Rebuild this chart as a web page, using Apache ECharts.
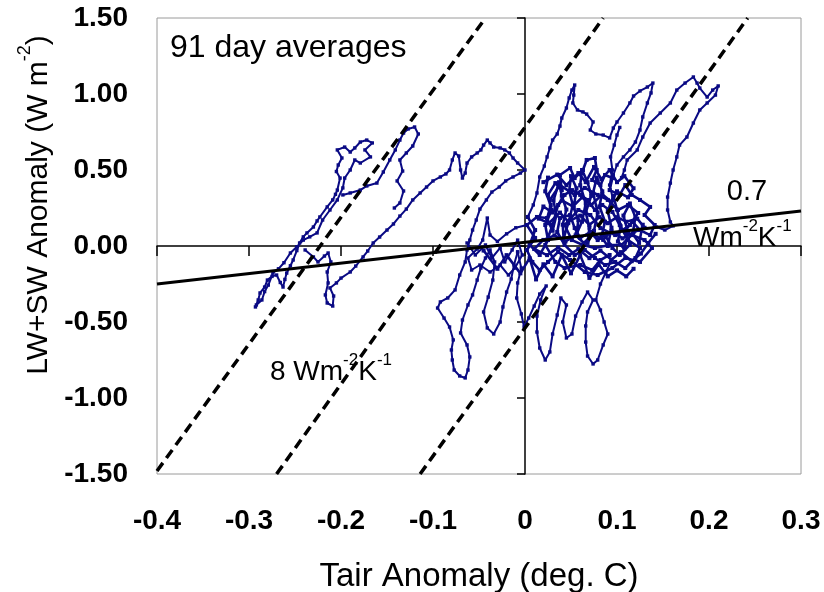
<!DOCTYPE html>
<html><head><meta charset="utf-8">
<script src="https://cdn.jsdelivr.net/npm/echarts@6/dist/echarts.min.js"></script>
<style>html,body{margin:0;padding:0;background:#fff}#c{width:824px;height:592px}</style>
</head><body><div id="c"></div>
<script>
const FONT = "'Liberation Sans', Arial, sans-serif";
const xMin = -0.4, xMax = 0.3, xStep = 0.1;
const yMin = -1.5, yMax = 1.5, yStep = 0.5;
const xTickLabels = ['-0.4','-0.3','-0.2','-0.1','0','0.1','0.2','0.3'];
const yTickLabels = ['-1.50','-1.00','-0.50','0.00','0.50','1.00','1.50'];

// reference lines (slope ~8 W m-2 K-1 dashed, 0.7 W m-2 K-1 solid)
const slopeLine1 = [[-0.4,-1.48],[-0.043,1.5]];
const slopeLine2 = [[-0.27,-1.5],[0.085,1.5]];
const slopeLine3 = [[-0.114,-1.5],[0.242,1.5]];
const fitLine = [[-0.4,-0.25],[0.3,0.23]];

// 91-day average trajectory
const trajLeft = [[-0.293,-0.401],[-0.290,-0.355],[-0.288,-0.309],[-0.283,-0.270],[-0.280,-0.224],[-0.275,-0.200],[-0.270,-0.191],[-0.266,-0.240],[-0.263,-0.270],[-0.261,-0.220],[-0.259,-0.178],[-0.255,-0.130],[-0.252,-0.092],[-0.248,-0.030],[-0.245,0.020],[-0.241,0.060],[-0.237,0.086],[-0.230,0.125],[-0.226,0.165],[-0.223,0.191],[-0.215,0.257],[-0.209,0.303],[-0.206,0.340],[-0.204,0.368],[-0.201,0.447],[-0.205,0.490],[-0.203,0.533],[-0.199,0.579],[-0.204,0.632],[-0.196,0.651],[-0.190,0.618],[-0.185,0.645],[-0.179,0.684],[-0.172,0.697],[-0.166,0.678],[-0.174,0.632],[-0.168,0.586],[-0.179,0.546],[-0.185,0.566],[-0.190,0.500],[-0.196,0.447],[-0.198,0.382],[-0.204,0.303],[-0.212,0.237],[-0.220,0.171],[-0.226,0.086],[-0.234,0.060],[-0.241,0.039],[-0.248,-0.005],[-0.255,-0.046],[-0.262,-0.110],[-0.268,-0.150],[-0.274,-0.178],[-0.279,-0.257],[-0.283,-0.300],[-0.286,-0.355],[-0.292,-0.388]];
const trajUpperLeft = [[-0.198,0.336],[-0.190,0.349],[-0.179,0.368],[-0.172,0.395],[-0.161,0.414],[-0.154,0.487],[-0.147,0.566],[-0.141,0.632],[-0.136,0.697],[-0.132,0.743],[-0.127,0.770],[-0.120,0.783],[-0.116,0.737],[-0.122,0.658],[-0.129,0.612],[-0.136,0.566],[-0.133,0.493],[-0.139,0.428],[-0.132,0.362],[-0.136,0.283],[-0.142,0.250]];
const trajBridge = [[-0.239,-0.026],[-0.230,-0.072],[-0.225,-0.105],[-0.218,-0.066],[-0.214,-0.046],[-0.211,-0.105],[-0.215,-0.171],[-0.214,-0.243],[-0.217,-0.322],[-0.215,-0.375],[-0.209,-0.395],[-0.208,-0.329],[-0.212,-0.276],[-0.205,-0.243],[-0.200,-0.211],[-0.190,-0.171],[-0.184,-0.132],[-0.176,-0.072],[-0.171,-0.033],[-0.165,0.020],[-0.158,0.059],[-0.150,0.105],[-0.143,0.145],[-0.136,0.197],[-0.129,0.243],[-0.122,0.303],[-0.114,0.349],[-0.107,0.388],[-0.100,0.428],[-0.092,0.454],[-0.086,0.474],[-0.082,0.500],[-0.079,0.566],[-0.076,0.612],[-0.072,0.592],[-0.070,0.500],[-0.068,0.447],[-0.065,0.480],[-0.063,0.546],[-0.058,0.586],[-0.052,0.612],[-0.048,0.632],[-0.045,0.664],[-0.041,0.697],[-0.038,0.678],[-0.034,0.651],[-0.027,0.645],[-0.022,0.632],[-0.017,0.612],[-0.013,0.579],[-0.008,0.546],[0.000,0.500],[-0.005,0.480],[-0.013,0.454],[-0.021,0.428],[-0.028,0.388],[-0.036,0.355],[-0.042,0.303],[-0.049,0.243],[-0.053,0.171],[-0.057,0.105],[-0.060,0.039],[-0.063,-0.026],[-0.065,-0.105],[-0.071,-0.191],[-0.076,-0.289],[-0.084,-0.342],[-0.092,-0.368],[-0.095,-0.408],[-0.088,-0.474],[-0.082,-0.533],[-0.078,-0.618],[-0.080,-0.684],[-0.079,-0.750],[-0.077,-0.816],[-0.071,-0.855],[-0.065,-0.868],[-0.062,-0.816],[-0.060,-0.730],[-0.063,-0.651],[-0.070,-0.572],[-0.068,-0.487],[-0.062,-0.388],[-0.057,-0.322],[-0.052,-0.224],[-0.048,-0.145],[-0.043,-0.079],[-0.038,-0.026],[-0.033,-0.105],[-0.035,-0.224],[-0.040,-0.336],[-0.045,-0.434],[-0.041,-0.539],[-0.034,-0.579],[-0.027,-0.500],[-0.024,-0.401],[-0.020,-0.303],[-0.015,-0.217],[-0.012,-0.125],[-0.008,-0.039]];
const trajCentral = [[-0.008,-0.039],[-0.004,-0.145],[-0.008,-0.243],[-0.009,-0.342],[-0.004,-0.447],[-0.001,-0.533],[0.004,-0.474],[0.010,-0.395],[0.016,-0.316],[0.023,-0.263],[0.017,-0.355],[0.013,-0.461],[0.013,-0.566],[0.016,-0.671],[0.022,-0.750],[0.027,-0.697],[0.030,-0.579],[0.035,-0.454],[0.039,-0.342],[0.045,-0.388],[0.041,-0.500],[0.045,-0.605],[0.051,-0.579],[0.055,-0.461],[0.062,-0.368],[0.068,-0.303],[0.074,-0.355],[0.068,-0.434],[0.066,-0.526],[0.066,-0.632],[0.068,-0.724],[0.074,-0.776],[0.079,-0.750],[0.085,-0.651],[0.090,-0.579],[0.086,-0.500],[0.082,-0.421],[0.077,-0.355],[0.082,-0.250],[0.088,-0.171],[0.093,-0.105]];
const trajBlobA = [[0.003,0.191],[0.011,0.105],[0.005,0.007],[0.016,-0.059],[0.025,0.039],[0.022,0.138],[0.029,0.237],[0.025,0.336],[0.033,0.414],[0.040,0.368],[0.038,0.467],[0.049,0.513],[0.054,0.447],[0.063,0.500],[0.067,0.566],[0.076,0.579],[0.078,0.500],[0.073,0.434],[0.082,0.401],[0.087,0.467],[0.095,0.447],[0.092,0.368],[0.103,0.336],[0.109,0.401],[0.116,0.336],[0.125,0.303],[0.136,0.257],[0.130,0.204],[0.141,0.138],[0.136,0.072],[0.125,0.105],[0.117,0.158],[0.109,0.105],[0.114,0.007],[0.103,-0.059],[0.095,-0.013],[0.087,0.072],[0.079,0.039],[0.071,0.092],[0.060,0.053],[0.054,0.118],[0.049,0.204],[0.038,0.184],[0.035,0.092],[0.043,0.007],[0.054,-0.059],[0.065,-0.026],[0.076,-0.079],[0.087,-0.125],[0.098,-0.105],[0.109,-0.145],[0.120,-0.079],[0.125,-0.013],[0.112,0.039],[0.103,0.138],[0.095,0.224],[0.084,0.270],[0.076,0.237],[0.068,0.303],[0.060,0.336],[0.051,0.368],[0.043,0.336],[0.036,0.270],[0.030,0.138],[0.022,0.007],[0.033,-0.105],[0.043,-0.145],[0.060,-0.125],[0.073,-0.158],[0.082,-0.092],[0.092,-0.059]];
const trajBlobB = [[0.027,0.303],[0.038,0.401],[0.054,0.336],[0.065,0.382],[0.079,0.336],[0.090,0.303],[0.101,0.237],[0.112,0.270],[0.123,0.217],[0.114,0.138],[0.098,0.072],[0.082,0.118],[0.071,0.204],[0.058,0.237],[0.043,0.138],[0.051,0.039],[0.063,0.007],[0.076,-0.013],[0.092,0.007],[0.105,0.007],[0.116,0.072],[0.130,0.039],[0.138,-0.013],[0.125,-0.105],[0.109,-0.079],[0.095,-0.145],[0.079,-0.191],[0.065,-0.171],[0.049,-0.092],[0.036,-0.039],[0.025,-0.105],[0.016,-0.158],[0.008,-0.105],[0.002,-0.026],[0.011,0.053],[0.002,0.138],[0.013,0.191],[0.024,0.184]];
const trajBlobC = [[0.020,0.420],[0.035,0.470],[0.045,0.400],[0.058,0.480],[0.066,0.420],[0.075,0.520],[0.083,0.440],[0.092,0.500],[0.100,0.420],[0.108,0.460],[0.118,0.380],[0.112,0.320],[0.100,0.360],[0.094,0.290],[0.084,0.340],[0.072,0.270],[0.062,0.320],[0.052,0.260],[0.040,0.300],[0.030,0.220],[0.020,0.260],[0.015,0.180],[0.026,0.150],[0.038,0.220],[0.047,0.160],[0.060,0.200],[0.070,0.140],[0.081,0.190],[0.090,0.150],[0.100,0.190],[0.110,0.160],[0.122,0.180],[0.130,0.120],[0.118,0.090],[0.106,0.050],[0.094,0.100],[0.085,0.040],[0.074,0.080],[0.064,0.020],[0.055,0.070],[0.044,0.030],[0.032,0.070],[0.020,0.040],[0.010,-0.020],[0.024,-0.060],[0.036,-0.010],[0.048,-0.060],[0.058,-0.020],[0.070,-0.080],[0.082,-0.030],[0.094,-0.090],[0.104,-0.040],[0.116,-0.100],[0.126,-0.050],[0.134,0.020],[0.142,0.080]];
const trajBlobD = [[-0.045,-0.030],[-0.030,-0.150],[-0.020,-0.060],[-0.005,-0.180],[0.005,-0.080],[0.012,-0.220],[0.020,-0.120],[0.030,-0.200],[0.040,-0.060],[0.050,-0.180],[0.060,-0.060],[0.070,-0.210],[0.080,-0.120],[0.090,-0.200],[0.100,-0.160],[0.110,-0.200],[0.118,-0.150]];
const trajBlobE = [[0.025,0.45],[0.022,0.36],[0.028,0.27],[0.024,0.18],[0.030,0.10],[0.034,0.20],[0.031,0.30],[0.037,0.42],[0.040,0.33],[0.045,0.24],[0.041,0.14],[0.042,0.05],[0.047,0.15],[0.052,0.27],[0.048,0.36],[0.050,0.46],[0.056,0.38],[0.053,0.25],[0.058,0.17],[0.056,0.08],[0.062,0.16],[0.066,0.28],[0.060,0.40],[0.062,0.50],[0.068,0.42],[0.072,0.33],[0.066,0.22],[0.070,0.12],[0.068,0.02],[0.075,0.10],[0.079,0.22],[0.074,0.35],[0.078,0.45],[0.084,0.36],[0.081,0.26],[0.087,0.16],[0.083,0.06],[0.090,0.00],[0.094,0.12],[0.090,0.23],[0.096,0.33],[0.100,0.24],[0.104,0.13],[0.101,0.03],[0.108,-0.02],[0.112,0.09],[0.107,0.20],[0.114,0.28],[0.120,0.19],[0.117,0.08],[0.124,0.02],[0.128,0.14]];
const trajNearZero = [[-0.063,0.020],[-0.054,-0.059],[-0.043,0.007],[-0.036,-0.079],[-0.027,-0.013],[-0.022,-0.105],[-0.014,-0.026],[-0.008,0.039],[-0.003,-0.059],[-0.011,-0.145],[-0.018,-0.191],[-0.027,-0.125],[-0.038,-0.171],[-0.049,-0.125],[-0.058,-0.158],[-0.062,-0.079],[-0.052,-0.020],[-0.046,0.039],[-0.041,0.184],[-0.038,0.072],[-0.030,0.030],[-0.020,0.080],[-0.010,0.120],[0.002,0.138]];
const trajPeak = [[0.003,0.191],[0.009,0.270],[0.013,0.349],[0.016,0.454],[0.021,0.526],[0.024,0.586],[0.027,0.645],[0.030,0.697],[0.035,0.737],[0.038,0.789],[0.040,0.842],[0.045,0.908],[0.048,0.974],[0.051,1.026],[0.054,1.059],[0.053,0.993],[0.052,0.941],[0.057,0.895],[0.063,0.882],[0.067,0.868],[0.074,0.816],[0.071,0.763],[0.077,0.737],[0.085,0.730],[0.092,0.711],[0.096,0.776],[0.100,0.816],[0.107,0.875],[0.114,0.941],[0.118,0.987],[0.125,1.020],[0.133,1.046],[0.139,1.072],[0.137,1.007],[0.133,0.941],[0.128,0.849],[0.125,0.763],[0.120,0.684],[0.114,0.632],[0.107,0.586],[0.100,0.533],[0.096,0.467]];
const trajMidRise = [[0.096,0.300],[0.092,0.401],[0.095,0.500],[0.093,0.586],[0.097,0.664],[0.100,0.730],[0.103,0.780]];
const trajRight = [[0.105,0.450],[0.108,0.500],[0.111,0.566],[0.122,0.632],[0.128,0.717],[0.136,0.809],[0.147,0.875],[0.158,0.941],[0.165,1.026],[0.174,1.072],[0.183,1.112],[0.187,1.072],[0.190,1.039],[0.198,0.980],[0.204,1.026],[0.210,1.053],[0.207,0.993],[0.198,0.941],[0.190,0.895],[0.183,0.809],[0.176,0.717],[0.168,0.664],[0.165,0.586],[0.161,0.500],[0.158,0.414],[0.155,0.322],[0.155,0.237],[0.158,0.158],[0.161,0.132],[0.152,0.105],[0.143,0.125]];

const trajPieces = [trajLeft, trajUpperLeft, trajBridge, trajCentral, trajNearZero, trajPeak, trajMidRise, trajRight];
const blobPieces = [trajBlobA, trajBlobB, trajBlobC, trajBlobD, trajBlobE];

const NAVY = '#0a0a84';
const series = [];
function addTraj(d, w) {
  series.push({type:'line', data:d, xAxisIndex:0, yAxisIndex:0, showSymbol:true, symbol:'rect', symbolSize:w + 1.4,
    lineStyle:{color:NAVY, width:w}, itemStyle:{color:NAVY}, silent:true, z:2, animation:false});
}
trajPieces.forEach(function (d) { addTraj(d, 2); });
blobPieces.forEach(function (d) { addTraj(d, 2.6); });
[slopeLine1, slopeLine2, slopeLine3].forEach(function (d) {
  series.push({type:'line', data:d, xAxisIndex:0, yAxisIndex:0, showSymbol:false, silent:true, z:5, animation:false,
    lineStyle:{color:'#000', width:3.5, type:[10,6]}});
});
series.push({type:'line', data:fitLine, xAxisIndex:0, yAxisIndex:0, showSymbol:false, silent:true, z:6, animation:false,
  lineStyle:{color:'#000', width:3}});

const supRich = {
  n:{fontSize:28, fontFamily:FONT, lineHeight:34, verticalAlign:'bottom', color:'#000'},
  s:{fontSize:17, fontFamily:FONT, lineHeight:17, verticalAlign:'top', color:'#000'}
};
const nameRich = {
  n:{fontSize:30, fontFamily:FONT, lineHeight:37, verticalAlign:'bottom', color:'#000'},
  s:{fontSize:18, fontFamily:FONT, lineHeight:18, verticalAlign:'top', color:'#000'}
};

const chart = echarts.init(document.getElementById('c'), null, {renderer:'canvas'});
chart.setOption({
  animation:false,
  backgroundColor:'#fff',
  grid:{left:157, right:23, top:18, bottom:118, show:true, borderColor:'#9a9a9a', borderWidth:1, backgroundColor:'transparent'},
  xAxis:[
    {type:'value', min:xMin, max:xMax, interval:xStep, position:'bottom',
     axisLine:{show:false, onZero:false}, axisTick:{show:false}, splitLine:{show:false},
     axisLabel:{fontSize:28, fontWeight:'bold', fontFamily:FONT, color:'#000', margin:33, showMinLabel:true, showMaxLabel:true,
       formatter:function(v){return xTickLabels[Math.round((v - xMin)/xStep)];}}},
    {type:'value', min:xMin, max:xMax, interval:xStep, position:'bottom',
     axisLine:{show:true, onZero:true, lineStyle:{color:'#000', width:1.5}},
     axisTick:{show:true, inside:false, length:10, lineStyle:{color:'#000', width:1.5}},
     axisLabel:{show:false}, splitLine:{show:false}}
  ],
  yAxis:[
    {type:'value', min:yMin, max:yMax, interval:yStep, position:'left',
     axisLine:{show:false, onZero:false}, axisTick:{show:false}, splitLine:{show:false},
     axisLabel:{fontSize:28, fontWeight:'bold', fontFamily:FONT, color:'#000', margin:29, showMinLabel:true, showMaxLabel:true,
       formatter:function(v){return yTickLabels[Math.round((v - yMin)/yStep)];}}},
    {type:'value', min:yMin, max:yMax, interval:yStep, position:'left',
     axisLine:{show:true, onZero:true, lineStyle:{color:'#000', width:1.5}},
     axisTick:{show:true, inside:false, length:8, lineStyle:{color:'#000', width:1.5}},
     axisLabel:{show:false}, splitLine:{show:false}}
  ],
  graphic:[
    {type:'text', x:170, y:48, z:100, style:{text:'91 day averages', font:"32px "+FONT, fill:'#000',
      textAlign:'left', align:'left', textVerticalAlign:'middle', verticalAlign:'middle'}},
    {type:'text', x:270, y:352, z:100, style:{text:'{n|8 Wm}{s|-2}{n|K}{s|-1}', rich:supRich, font:"28px "+FONT, fill:'#000',
      textAlign:'left', align:'left', textVerticalAlign:'top', verticalAlign:'top'}},
    {type:'text', x:747, y:192, z:100, style:{text:'0.7', font:"29px "+FONT, fill:'#000',
      textAlign:'center', align:'center', textVerticalAlign:'middle', verticalAlign:'middle'}},
    {type:'text', x:693, y:218, z:100, style:{text:'{n|Wm}{s|-2}{n|K}{s|-1}', rich:supRich, font:"28px "+FONT, fill:'#000',
      textAlign:'left', align:'left', textVerticalAlign:'top', verticalAlign:'top'}},
    {type:'text', x:479, y:577, z:100, style:{text:'Tair Anomaly (deg. C)', font:"33px "+FONT, fill:'#000',
      textAlign:'center', align:'center', textVerticalAlign:'middle', verticalAlign:'middle'}},
    {type:'text', x:35, y:205, rotation:Math.PI/2, z:100, style:{text:'{n|LW+SW Anomaly (W m}{s|-2}{n|)}', rich:nameRich, font:"30px "+FONT, fill:'#000',
      textAlign:'center', align:'center', textVerticalAlign:'middle', verticalAlign:'middle'}}
  ],
  series:series
});
</script></body></html>
